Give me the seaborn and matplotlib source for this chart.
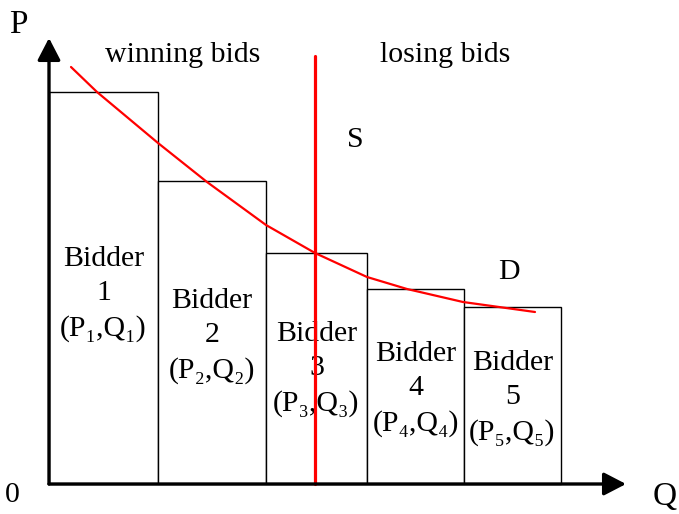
import matplotlib
matplotlib.use('Agg')
import matplotlib.pyplot as plt
import numpy as np
import seaborn as sns

# bid blocks: left edges on Q, and bid price (height) of each bidder
bid_edges = [0, 109, 217, 318, 415, 512]
bid_prices = [392, 303, 231, 195, 177]
bidder_ids = ['1', '2', '3', '4', '5']
subscripts = ['\u2081', '\u2082', '\u2083', '\u2084', '\u2085']

# demand curve
demand_q = [22, 48, 109, 158, 217, 266, 318, 358, 414, 486]
demand_p = [417, 392, 341, 302, 259, 231, 207, 195, 182, 172]

# supply: vertical line at the cleared quantity
supply_q = [266, 266]
supply_p = [0, 428]

sns.set_style('white')
plt.rcParams['font.family'] = ['Liberation Serif', 'DejaVu Serif']
plt.rcParams['text.color'] = 'black'

fig = plt.figure(figsize=(6.79, 5.14), dpi=100)
ax = fig.add_axes([0, 0, 1, 1])
ax.set_xlim(-49, 630)
ax.set_ylim(-30, 484)
ax.axis('off')

centers = [(a + b) / 2 for a, b in zip(bid_edges[:-1], bid_edges[1:])]
sns.histplot(x=centers, weights=bid_prices, bins=bid_edges, color='white',
             edgecolor='black', linewidth=1, alpha=1, ax=ax, zorder=1)

sns.lineplot(x=demand_q, y=demand_p, sort=False, estimator=None, color='red',
             lw=1.6, ax=ax, zorder=4)
sns.lineplot(x=supply_q, y=supply_p, sort=False, estimator=None, color='red',
             lw=2.3, ax=ax, zorder=4)

# axes with arrow heads
arrow = dict(arrowstyle='-|>,head_length=13.5,head_width=7', mutation_scale=1,
             lw=2.4, color='black', shrinkA=0, shrinkB=0)
ax.annotate('', xy=(0, 446), xytext=(0, 0), arrowprops=arrow, zorder=5)
ax.annotate('', xy=(577, 0), xytext=(0, 0), arrowprops=arrow, zorder=5)

fs = 21.5
ax.text(-31, 459, 'P', fontsize=24, ha='center', va='center')
ax.text(-37, -11, '0', fontsize=fs, ha='center', va='center')
ax.text(616, -13, 'Q', fontsize=24, ha='center', va='center')
ax.text(134, 429, 'winning bids', fontsize=fs, ha='center', va='center')
ax.text(396, 429, 'losing bids', fontsize=fs, ha='center', va='center')
ax.text(306, 344, 'S', fontsize=fs, ha='center', va='center')
ax.text(460, 212, 'D', fontsize=fs, ha='center', va='center')

label_y = [190, 148, 115, 95, 86]
for cx, ly, bid, sub in zip(centers, label_y, bidder_ids, subscripts):
    ax.text(cx, ly, f'Bidder\n{bid}\n(P{sub},Q{sub})', fontsize=fs, ha='center',
            va='center', linespacing=1.42, zorder=3)

fig.savefig('out.png', dpi=100)
